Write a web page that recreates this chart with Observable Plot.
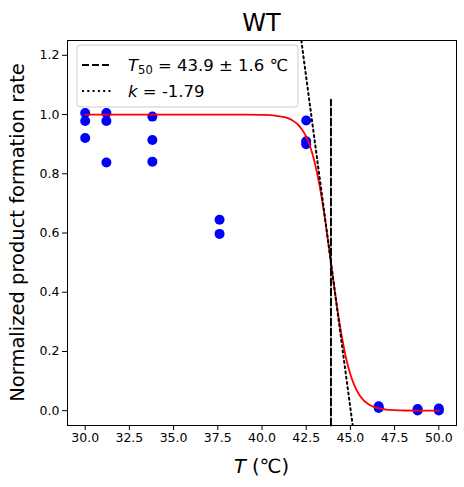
<!DOCTYPE html>
<html><head><meta charset="utf-8">
<script src="https://cdn.jsdelivr.net/npm/d3@7"></script>
<script src="https://cdn.jsdelivr.net/npm/@observablehq/plot@0.6"></script>
<style>
body{margin:0;background:#fff;}
svg{font-family:"DejaVu Sans",sans-serif;}
</style>
</head><body><div id="chart"></div>
<script>
// ---- data ----
const titleText = "WT";
const yLabelText = "Normalized product formation rate";
const xTicks = [30, 32.5, 35, 37.5, 40, 42.5, 45, 47.5, 50];
const yTicks = [0, 0.2, 0.4, 0.6, 0.8, 1.0, 1.2];

const pointTemps = [30,30,30,31.2,31.2,31.2,33.8,33.8,33.8,37.6,37.6,42.5,42.5,42.5,46.6,46.6,48.8,48.8,50,50];
const pointRates = [1.005,0.978,0.921,1.005,0.978,0.838,0.993,0.914,0.841,0.645,0.597,0.98,0.91,0.9,0.015,0.009,0.006,0.001,0.007,0.001];

const fitTemps = [30,32,34,36,38,39,40,40.5,41,41.5,41.75,42,42.25,42.5,42.75,43,43.25,43.5,43.75,43.9,44,44.25,44.5,44.75,45,45.25,45.5,45.75,46,46.25,46.5,47,47.5,48,49,50];
const fitRates = [1,1,1,1,1,1,0.999,0.998,0.994,0.987,0.979,0.968,0.950,0.925,0.887,0.834,0.762,0.672,0.567,0.5,0.455,0.348,0.255,0.179,0.122,0.082,0.054,0.035,0.023,0.0147,0.0094,0.0039,0.0016,0.0007,0.0001,0.0];

const t50Temps = [43.9, 43.9];
const t50Rates = [-0.05, 1.05];

const slopeTemps = [42.224, 45.129];
const slopeRates = [1.25, -0.05];

const legendT50 = "43.9 ± 1.6 ℃";
const legendK = "-1.79";

// ---- build tables ----
const points = pointTemps.map((t, i) => ({t, r: pointRates[i]}));
const fit = fitTemps.map((t, i) => ({t, r: fitRates[i]}));
const t50 = t50Temps.map((t, i) => ({t, r: t50Rates[i]}));
const slope = slopeTemps.map((t, i) => ({t, r: slopeRates[i]}));

const W = 464, H = 487;
const mL = 67, mR = 8, mT = 40, mB = 62;

const plot = Plot.plot({
  width: W, height: H,
  marginLeft: mL, marginRight: mR, marginTop: mT, marginBottom: mB,
  style: {fontFamily: "DejaVu Sans", fontSize: "12.5px", color: "black", background: "white"},
  x: {domain: [29, 51]},
  y: {domain: [-0.05, 1.25]},
  marks: [
    Plot.axisX({ticks: xTicks, tickFormat: d => d.toFixed(1), tickSize: 5, tickPadding: 3, fontSize: 12.5, label: null}),
    Plot.axisY({ticks: yTicks, tickFormat: d => d.toFixed(1), tickSize: 5, tickPadding: 3, fontSize: 12.5, label: null}),
    Plot.dot(points, {x: "t", y: "r", r: 5, fill: "blue", stroke: "none"}),
    Plot.line(fit, {x: "t", y: "r", stroke: "red", strokeWidth: 1.8, curve: "monotone-x"}),
    Plot.line(t50, {x: "t", y: "r", stroke: "black", strokeWidth: 2, strokeDasharray: "7,3"}),
    Plot.line(slope, {x: "t", y: "r", stroke: "black", strokeWidth: 2, strokeDasharray: "2,3.3", clip: true}),
    Plot.frame({stroke: "black", strokeWidth: 1})
  ]
});

document.getElementById("chart").appendChild(plot);

const svg = d3.select(plot);
const cx = mL + (W - mL - mR) / 2;
const cy = mT + (H - mT - mB) / 2;

svg.append("text").attr("x", cx).attr("y", 31).attr("text-anchor", "middle")
  .attr("font-size", 24).attr("fill", "black").text(titleText);

const xl = svg.append("text").attr("x", cx).attr("y", 473).attr("text-anchor", "middle")
  .attr("font-size", 19.5).attr("fill", "black");
xl.append("tspan").attr("font-style", "italic").text("T");
xl.append("tspan").text(" (℃)");

svg.append("text").attr("transform", `translate(24,${cy}) rotate(-90)`).attr("text-anchor", "middle")
  .attr("font-size", 19.5).attr("fill", "black").text(yLabelText);

// legend
const lg = svg.append("g").attr("text-anchor", "start");
lg.append("rect").attr("x", 77).attr("y", 45).attr("width", 221).attr("height", 62).attr("rx", 3)
  .attr("fill", "white").attr("fill-opacity", 0.8).attr("stroke", "#cccccc");
lg.append("line").attr("x1", 82).attr("x2", 112).attr("y1", 65).attr("y2", 65)
  .attr("stroke", "black").attr("stroke-width", 2).attr("stroke-dasharray", "7,3");
lg.append("line").attr("x1", 82).attr("x2", 112).attr("y1", 91).attr("y2", 91)
  .attr("stroke", "black").attr("stroke-width", 2).attr("stroke-dasharray", "2,3.3");
const l1 = lg.append("text").attr("x", 128).attr("y", 70.5).attr("font-size", 16.5).attr("fill", "black").attr("text-anchor", "start");
l1.append("tspan").attr("font-style", "italic").text("T");
l1.append("tspan").attr("font-size", 11.5).attr("dy", 3).text("50");
l1.append("tspan").attr("dy", -3).text(" = " + legendT50);
const l2 = lg.append("text").attr("x", 128).attr("y", 96.5).attr("font-size", 16.5).attr("fill", "black").attr("text-anchor", "start");
l2.append("tspan").attr("font-style", "italic").text("k");
l2.append("tspan").text(" = " + legendK);
</script>
</body></html>
